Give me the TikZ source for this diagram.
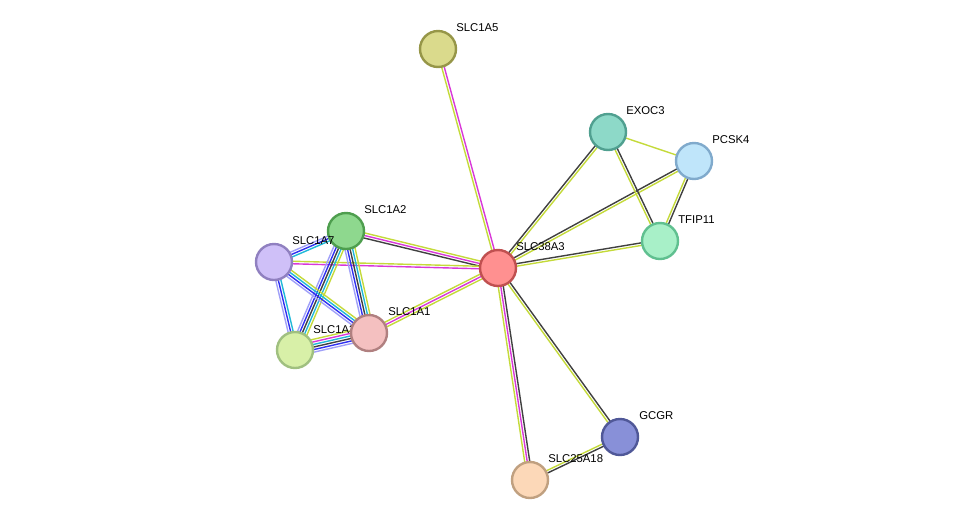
\documentclass[tikz,border=0pt]{standalone}
\usepackage{fontspec}
\setmainfont{Liberation Sans}
\usetikzlibrary{calc}
\pgfdeclarelayer{background}
\pgfsetlayers{background,main}
\definecolor{ygreen}{HTML}{C4DA3A}
\definecolor{mag}{HTML}{D838D8}
\definecolor{dgray}{HTML}{404040}
\definecolor{eblue}{HTML}{3030F0}
\definecolor{ecyan}{HTML}{20B8D8}
\definecolor{lviolet}{HTML}{A0A0F8}
\tikzset{
  prot/.style={circle, minimum size=27pt, inner sep=0pt, line width=1.8pt},
  lbl/.style={anchor=south west, inner sep=0pt, font=\fontsize{8.5}{10}\selectfont}
}
\newcommand\ppiedge[3]{%
  \xdef\ppin{0}%
  \foreach \c in {#3}{\xdef\ppin{\the\numexpr\ppin+1\relax}}%
  \foreach \c [count=\i] in {#3}{%
    \pgfmathsetmacro\o{(\i-(\ppin+1)/2)*1.9}
    \draw[\c, line width=1.05pt] ($(#1.center)!\o pt!90:(#2.center)$) -- ($(#2.center)!\o pt!-90:(#1.center)$);
  }}
\begin{document}
\begin{tikzpicture}[x=0.75pt,y=-0.75pt]
\useasboundingbox (0,0) rectangle (975,526);
% proteins
\node[prot, fill={rgb,255:red,255;green,144;blue,144}, draw={rgb,255:red,192;green,80;blue,80}] (slc38a3) at (498,268) {};
\node[prot, fill={rgb,255:red,218;green,218;blue,140}, draw={rgb,255:red,150;green,150;blue,72}] (slc1a5) at (438,49) {};
\node[prot, fill={rgb,255:red,141;green,217;blue,200}, draw={rgb,255:red,80;green,160;blue,144}] (exoc3) at (608,132) {};
\node[prot, fill={rgb,255:red,191;green,229;blue,250}, draw={rgb,255:red,128;green,170;blue,204}] (pcsk4) at (694,161) {};
\node[prot, fill={rgb,255:red,168;green,240;blue,200}, draw={rgb,255:red,96;green,192;blue,144}] (tfip11) at (660,241) {};
\node[prot, fill={rgb,255:red,142;green,216;blue,142}, draw={rgb,255:red,78;green,158;blue,78}] (slc1a2) at (346,231) {};
\node[prot, fill={rgb,255:red,207;green,192;blue,248}, draw={rgb,255:red,144;green,128;blue,192}] (slc1a7) at (274,262) {};
\node[prot, fill={rgb,255:red,216;green,240;blue,168}, draw={rgb,255:red,160;green,192;blue,128}] (slc1a3) at (295,350) {};
\node[lbl] at (313,334) {SLC1A3};
\node[prot, fill={rgb,255:red,244;green,192;blue,192}, draw={rgb,255:red,176;green,128;blue,128}] (slc1a1) at (369,333) {};
\node[prot, fill={rgb,255:red,136;green,144;blue,216}, draw={rgb,255:red,80;green,88;blue,152}] (gcgr) at (620,437) {};
\node[prot, fill={rgb,255:red,252;green,216;blue,184}, draw={rgb,255:red,192;green,160;blue,128}] (slc25a18) at (530,480) {};
% labels
\node[lbl] at (516,251) {SLC38A3};
\node[lbl] at (456,32) {SLC1A5};
\node[lbl] at (626,115) {EXOC3};
\node[lbl] at (712,144) {PCSK4};
\node[lbl] at (678,224) {TFIP11};
\node[lbl] at (364,214) {SLC1A2};
\node[lbl] at (292,245) {SLC1A7};
\node[lbl] at (388,316) {SLC1A1};
\node[lbl] at (639,420) {GCGR};
\node[lbl] at (548,463) {SLC25A18};
% interactions
\begin{pgfonlayer}{background}
\ppiedge{slc38a3}{slc1a5}{mag,ygreen}
\ppiedge{slc38a3}{exoc3}{ygreen,dgray}
\ppiedge{slc38a3}{pcsk4}{ygreen,dgray}
\ppiedge{slc38a3}{tfip11}{ygreen,dgray}
\ppiedge{exoc3}{pcsk4}{ygreen}
\ppiedge{exoc3}{tfip11}{ygreen,dgray}
\ppiedge{pcsk4}{tfip11}{ygreen,dgray}
\ppiedge{slc38a3}{gcgr}{ygreen,dgray}
\ppiedge{slc38a3}{slc25a18}{ygreen,mag,dgray}
\ppiedge{gcgr}{slc25a18}{ygreen,dgray}
\ppiedge{slc38a3}{slc1a2}{ygreen,mag,dgray}
\ppiedge{slc38a3}{slc1a7}{ygreen,mag}
\ppiedge{slc38a3}{slc1a1}{ygreen,mag,ygreen}
\ppiedge{slc1a2}{slc1a7}{lviolet,eblue,ecyan}
\ppiedge{slc1a2}{slc1a3}{lviolet,eblue,dgray,ecyan,ygreen}
\ppiedge{slc1a2}{slc1a1}{lviolet,eblue,dgray,ecyan,ygreen}
\ppiedge{slc1a7}{slc1a3}{lviolet,eblue,ecyan}
\ppiedge{slc1a7}{slc1a1}{lviolet,eblue,ecyan,ygreen}
\ppiedge{slc1a3}{slc1a1}{lviolet,eblue,dgray,ecyan,mag,ygreen}
\end{pgfonlayer}
\end{tikzpicture}
\end{document}
